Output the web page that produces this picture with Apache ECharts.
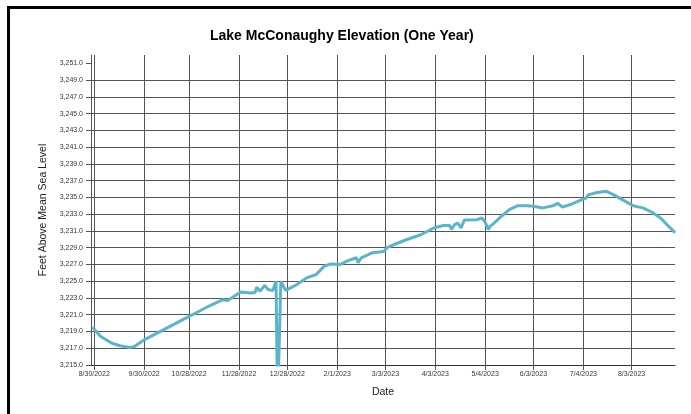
<!DOCTYPE html>
<html>
<head>
<meta charset="utf-8">
<script src="https://cdn.jsdelivr.net/npm/echarts@6/dist/echarts.min.js"></script>
<style>
html,body{margin:0;padding:0;background:#fff}
#main{width:691px;height:414px}
</style>
</head>
<body>
<div id="main"></div>
<script>
// x axis tick labels
var tickDates = ['8/30/2022','9/30/2022','10/28/2022','11/28/2022','12/28/2022','2/1/2023',
    '3/3/2023','4/3/2023','5/4/2023','6/3/2023','7/4/2023','8/3/2023'];
var yTicks = [3215,3217,3219,3221,3223,3225,3227,3229,3231,3233,3235,3237,3239,3241,3243,3245,3247,3249,3251];
// days with no reading
var missingDays = ['12/29/2022','12/30/2022','12/31/2022','1/1/2023'];

// elevation readings (ft)
var obsDates = ['8/29/2022','9/3/2022','9/10/2022','9/15/2022','9/21/2022','9/24/2022','9/30/2022',
    '10/9/2022','10/17/2022','10/25/2022','11/2/2022','11/10/2022','11/18/2022','11/21/2022','11/29/2022',
    '12/5/2022','12/8/2022','12/9/2022','12/11/2022','12/14/2022','12/16/2022','12/19/2022','12/21/2022',
    '12/22/2022','12/23/2022','12/24/2022','12/27/2022',
    '1/7/2023','1/13/2023','1/19/2023','1/21/2023','1/24/2023','1/28/2023',
    '2/3/2023','2/7/2023','2/13/2023','2/14/2023','2/16/2023','2/23/2023',
    '3/2/2023','3/4/2023','3/8/2023','3/16/2023','3/25/2023',
    '4/2/2023','4/8/2023','4/12/2023','4/13/2023','4/15/2023','4/17/2023','4/19/2023','4/21/2023','4/29/2023',
    '5/2/2023','5/4/2023','5/6/2023','5/7/2023','5/9/2023','5/13/2023','5/19/2023','5/24/2023','5/30/2023',
    '6/3/2023','6/9/2023','6/15/2023','6/18/2023','6/21/2023','6/26/2023',
    '7/2/2023','7/6/2023','7/7/2023','7/12/2023','7/18/2023','7/23/2023','7/29/2023',
    '8/4/2023','8/10/2023','8/16/2023','8/21/2023','8/25/2023','8/30/2023'];
var obsValues = [3219.5,3218.4,3217.6,3217.3,3217.1,3217.2,3218.0,
    3218.9,3219.7,3220.5,3221.3,3222.1,3222.8,3222.7,3223.7,
    3223.6,3223.65,3224.3,3223.8,3224.5,3224.0,3223.9,3225.0,
    3210,3210,3225.0,3223.9,
    3224.6,3225.4,3225.8,3226.2,3226.8,3227.05,
    3227.0,3227.4,3227.8,3227.2,3227.8,3228.4,
    3228.55,3229.0,3229.35,3229.95,3230.55,
    3231.35,3231.65,3231.65,3231.2,3231.75,3231.95,3231.35,3232.3,3232.35,
    3232.55,3232.05,3231.15,3231.55,3231.85,3232.55,3233.55,3234.0,3234.0,
    3233.95,3233.75,3234.0,3234.3,3233.85,3234.15,
    3234.65,3234.95,3235.3,3235.55,3235.75,3235.3,3234.65,
    3234.0,3233.75,3233.2,3232.55,3231.75,3230.8];

var categories = [];
var d = new Date(2022, 7, 28), end = new Date(2023, 7, 30);
while (d <= end) {
    var s = (d.getMonth() + 1) + '/' + d.getDate() + '/' + d.getFullYear();
    if (missingDays.indexOf(s) < 0) categories.push(s);
    d.setDate(d.getDate() + 1);
}
var seriesData = [];
for (var i = 0; i < obsDates.length; i++) {
    seriesData.push([obsDates[i], obsValues[i]]);
}
var isTick = function (idx, value) {
    return tickDates.indexOf(value) >= 0;
};
var gridColor = '#555';

var chart = echarts.init(document.getElementById('main'));
chart.setOption({
    animation: false,
    title: {
        text: 'Lake McConaughy Elevation (One Year)',
        left: 205,
        top: 24,
        textStyle: {fontFamily: 'Liberation Sans, Arial', fontSize: 14, fontWeight: 'bold', color: '#000'}
    },
    graphic: [{
        type: 'rect',
        shape: {x: 8.5, y: 7.5, width: 800, height: 600},
        style: {fill: 'none', stroke: '#000', lineWidth: 3},
        silent: true
    }],
    grid: {left: 91, right: 16, top: 55, bottom: 49},
    xAxis: {
        type: 'category',
        data: categories,
        boundaryGap: false,
        name: 'Date',
        nameLocation: 'middle',
        nameGap: 22,
        nameTextStyle: {fontFamily: 'Liberation Sans, Arial', fontSize: 10.5, color: '#222'},
        axisLine: {lineStyle: {color: '#333', width: 1}},
        axisTick: {interval: isTick, length: 5, lineStyle: {color: gridColor}},
        axisLabel: {interval: isTick, margin: 6, fontFamily: 'Liberation Sans, Arial', fontSize: 7, color: '#333'},
        splitLine: {show: true, interval: isTick, lineStyle: {color: gridColor, width: 1}}
    },
    yAxis: {
        type: 'value',
        min: 3215,
        max: 3252,
        interval: 2,
        name: 'Feet Above Mean Sea Level',
        nameLocation: 'middle',
        nameGap: 41,
        nameTextStyle: {fontFamily: 'Liberation Sans, Arial', fontSize: 10.5, color: '#222'},
        axisLine: {show: true, lineStyle: {color: gridColor, width: 1}},
        axisTick: {show: true, length: 5, customValues: yTicks, lineStyle: {color: gridColor}},
        axisLabel: {
            customValues: yTicks,
            margin: 8,
            fontFamily: 'Liberation Sans, Arial',
            fontSize: 7,
            color: '#333',
            formatter: function (v) {
                return v.toLocaleString('en-US', {minimumFractionDigits: 1, maximumFractionDigits: 1});
            }
        },
        splitLine: {show: true, showMaxLine: false, lineStyle: {color: gridColor, width: 1}}
    },
    series: [{
        type: 'line',
        data: seriesData,
        showSymbol: false,
        symbol: 'none',
        connectNulls: true,
        clip: true,
        lineStyle: {color: '#5cb4cc', width: 3}
    }]
});
</script>
</body>
</html>
